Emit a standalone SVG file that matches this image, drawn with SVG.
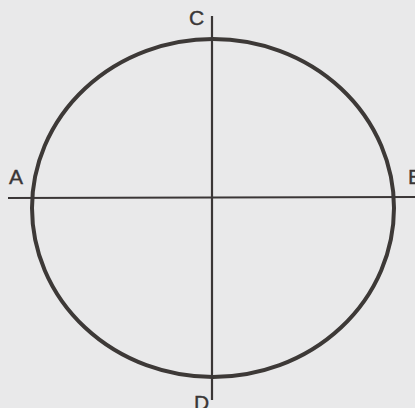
<svg xmlns="http://www.w3.org/2000/svg" width="415" height="408" viewBox="0 0 415 408">
<style>
.lbl{font-family:"Liberation Sans",Arial,sans-serif;font-size:21px;fill:#3a3636;stroke:#3a3636;stroke-width:0.4}
.ax{stroke:#3a3636;stroke-width:2.2;fill:none}
</style>
<rect width="415" height="408" fill="#e9e9ea"/>
<g id="circle"><ellipse cx="213" cy="208" rx="181" ry="169" fill="none" stroke="#3d3937" stroke-width="4"/></g>
<g id="connectors">
<line class="ax" x1="8" y1="198" x2="415" y2="197"/>
<line class="ax" x1="212" y1="16" x2="212" y2="400"/>
</g>
<g id="A"><text class="lbl" x="9" y="184">A</text></g>
<g id="B"><text class="lbl" x="408" y="184">B</text></g>
<g id="C"><text class="lbl" x="189" y="25">C</text></g>
<g id="D"><text class="lbl" x="194" y="410">D</text></g>
</svg>
